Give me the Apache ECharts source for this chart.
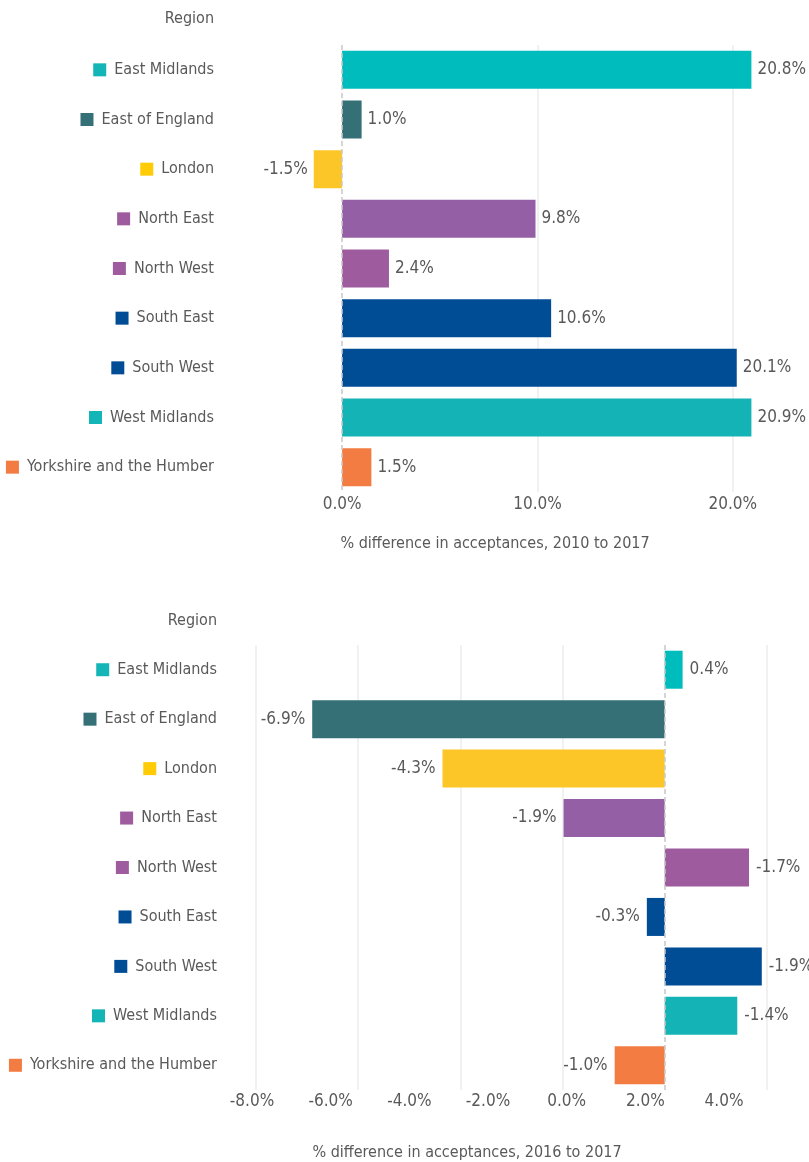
<!DOCTYPE html>
<html>
<head>
<meta charset="utf-8">
<title>Acceptances by region</title>
<script src="https://cdn.jsdelivr.net/npm/echarts@6/dist/echarts.min.js"></script>
<style>
html, body { margin: 0; padding: 0; background: #fff; }
#chart { width: 809px; height: 1162px; }
</style>
</head>
<body>
<div id="chart"></div>
<script>
var regions = ['East Midlands', 'East of England', 'London', 'North East', 'North West',
	'South East', 'South West', 'West Midlands', 'Yorkshire and the Humber'];
var barColors = ['#00bcbc', '#357077', '#fdc628', '#955fa5', '#9e5c9f', '#004c95', '#004c95', '#14b4b6', '#f27c42'];
var squareColors = ['#13b5b7', '#357077', '#ffcb05', '#9e5c9f', '#9e5c9f', '#004c95', '#004c95', '#13b5b7', '#f27c42'];

// 2010 to 2017 (top chart)
var change2010 = [20.95, 1.0, -1.45, 9.9, 2.4, 10.7, 20.2, 20.95, 1.5];
var labels2010 = ['20.8%', '1.0%', '-1.5%', '9.8%', '2.4%', '10.6%', '20.1%', '20.9%', '1.5%'];
var ticks2010 = [0, 10, 20];
var tickLabels2010 = ['0.0%', '10.0%', '20.0%'];

// 2016 to 2017 (bottom chart) - bar lengths and printed labels as shown
var change2016 = [0.35, -6.9, -4.35, -1.98, 1.65, -0.35, 1.9, 1.42, -0.98];
var labels2016 = ['0.4%', '-6.9%', '-4.3%', '-1.9%', '-1.7%', '-0.3%', '-1.9%', '-1.4%', '-1.0%'];
var tickLabels2016 = ['-8.0%', '-6.0%', '-4.0%', '-2.0%', '0.0%', '2.0%', '4.0%'];

var FONT = "'DejaVu Sans Condensed', 'Liberation Sans', sans-serif";
var TEXT = '#595959';
var GRIDLINE = '#ececec';
var SIZE = 16;     // category and title text
var NUMSIZE = 17;  // numbers

// colour per split line, only some values get a visible line
function splitColors(min, max, step, shown) {
	var cols = [];
	for (var v = min; v <= max + 1e-9; v += step) {
		var on = false;
		for (var k = 0; k < shown.length; k++) {
			if (Math.abs(shown[k] - v) < 1e-6) on = true;
		}
		cols.push(on ? GRIDLINE : 'rgba(0,0,0,0)');
	}
	cols.push('rgba(0,0,0,0)');
	cols.push('rgba(0,0,0,0)');
	return cols;
}

var rich = { t: { fontSize: SIZE, fontFamily: FONT, color: TEXT, padding: [0, 0, 0, 8] } };
for (var i = 0; i < regions.length; i++) {
	rich['s' + i] = { width: 13, height: 13, backgroundColor: squareColors[i] };
}

function regionAxis(gridIndex, margin) {
	return {
		gridIndex: gridIndex,
		type: 'category',
		inverse: true,
		data: regions,
		axisLine: { show: false },
		axisTick: { show: false },
		splitLine: { show: false },
		axisLabel: {
			margin: margin,
			formatter: function(value, index) {
				return '{s' + index + '|}{t|' + value + '}';
			},
			rich: rich
		}
	};
}

function barData(values) {
	return values.map(function(v, i) {
		return {
			value: v,
			itemStyle: { color: barColors[i] },
			label: { position: v < 0 ? 'left' : 'right' }
		};
	});
}

var zeroLine = {
	silent: true,
	symbol: ['none', 'none'],
	label: { show: false },
	lineStyle: { type: [5, 3], color: '#c8c8c8', width: 1.5 },
	data: [{ xAxis: 0 }]
};

function textEl(text, x, y, align) {
	return {
		type: 'text',
		x: x,
		y: y,
		style: {
			text: text,
			fill: TEXT,
			fontSize: SIZE,
			fontFamily: FONT,
			align: align,
			verticalAlign: 'middle'
		}
	};
}

var chart = echarts.init(document.getElementById('chart'));
var option = {
	animation: false,
	backgroundColor: '#fff',
	textStyle: { fontFamily: FONT },
	grid: [
		{ left: 303, top: 45, width: 508, height: 447, outerBoundsMode: 'none', containLabel: false },
		{ left: 256, top: 645, width: 562, height: 445, outerBoundsMode: 'none', containLabel: false },
		{ left: 252, top: 645, width: 472, height: 445, outerBoundsMode: 'none', containLabel: false }
	],
	xAxis: [{
		gridIndex: 0,
		type: 'value',
		min: -2,
		max: 24,
		interval: 2,
		axisLine: { show: false },
		axisTick: { show: false },
		axisLabel: {
			margin: 4,
			fontSize: NUMSIZE,
			fontFamily: FONT,
			color: TEXT,
			formatter: function(v) {
				for (var k = 0; k < ticks2010.length; k++) {
					if (Math.abs(ticks2010[k] - v) < 1e-6) return tickLabels2010[k];
				}
				return '';
			}
		},
		splitLine: { lineStyle: { color: splitColors(-2, 24, 2, [10, 20]), width: 1.5 } }
	}, {
		gridIndex: 1,
		type: 'value',
		min: -8,
		max: 3,
		interval: 2,
		axisLine: { show: false },
		axisTick: { show: false },
		axisLabel: { show: false },
		splitLine: { lineStyle: { color: splitColors(-8, 2, 2, [-8, -6, -4, -2, 2]), width: 1.5 } }
	}, {
		gridIndex: 2,
		type: 'category',
		data: tickLabels2016,
		boundaryGap: false,
		axisLine: { show: false },
		axisTick: { show: false },
		splitLine: { show: false },
		axisLabel: { margin: 3, fontSize: NUMSIZE, fontFamily: FONT, color: TEXT, interval: 0 }
	}],
	yAxis: [
		regionAxis(0, 89),
		regionAxis(1, 39),
		{ gridIndex: 2, type: 'value', show: false }
	],
	series: [{
		type: 'bar',
		xAxisIndex: 0,
		yAxisIndex: 0,
		barWidth: 38,
		data: barData(change2010),
		label: {
			show: true,
			distance: 6,
			fontSize: NUMSIZE,
			fontFamily: FONT,
			color: TEXT,
			formatter: function(p) { return labels2010[p.dataIndex]; }
		},
		markLine: zeroLine
	}, {
		type: 'bar',
		xAxisIndex: 1,
		yAxisIndex: 1,
		barWidth: 38,
		data: barData(change2016),
		label: {
			show: true,
			distance: 7,
			fontSize: NUMSIZE,
			fontFamily: FONT,
			color: TEXT,
			formatter: function(p) { return labels2016[p.dataIndex]; }
		},
		markLine: zeroLine
	}],
	graphic: [
		textEl('Region', 214, 19, 'right'),
		textEl('% difference in acceptances, 2010 to 2017', 495, 544, 'center'),
		textEl('Region', 217, 621, 'right'),
		textEl('% difference in acceptances, 2016 to 2017', 467, 1153, 'center')
	]
};
chart.setOption(option);
</script>
</body>
</html>
